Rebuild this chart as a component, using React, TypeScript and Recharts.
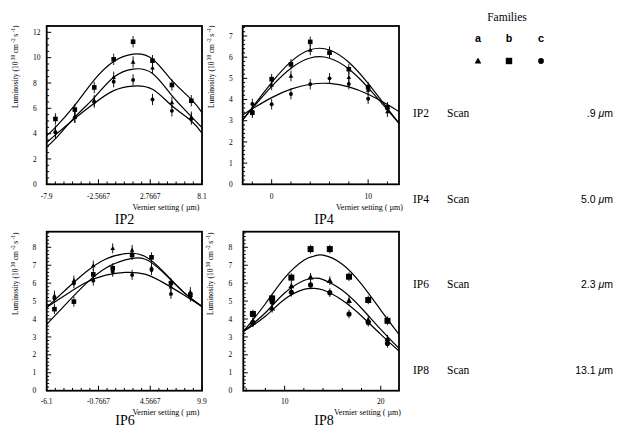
import React from 'react';
import { ComposedChart, Line, Scatter, XAxis, YAxis, ErrorBar } from 'recharts';

const SERIF = '"Liberation Serif", "DejaVu Serif", serif';
const SANS = '"Liberation Sans", Arial, sans-serif';
const MONO = '"Liberation Mono", "DejaVu Sans Mono", monospace';

// IP2 scan: vernier steps (um) and luminosity per family (a = triangle, b = square, c = circle)
const ip2Steps = [-7, -5, -3, -1, 1, 3, 5, 7];
const ip2FamA = [4.2, 5.3, 6.6, 8.45, 9.66, 9.2, 6.45, 5.3];
const ip2FamB = [5.16, 5.9, 7.65, 9.87, 11.26, 9.76, 7.84, 6.6];
const ip2FamC = [4.1, 5.3, 6.5, 8.1, 8.24, 6.7, 5.8, 5.15];
// fitted curves
const ip2FitX = [-7.9, -7, -5, -3, -1, 1, 3, 5, 7, 8.1];
const ip2FitA = [2.97, 3.6, 5.3, 6.85, 8.45, 9.1, 8.75, 7.0, 5.35, 4.47];
const ip2FitB = [3.85, 4.5, 6.25, 8.25, 9.7, 10.28, 9.9, 8.2, 6.7, 5.66];
const ip2FitC = [3.3, 3.9, 5.2, 6.4, 7.4, 7.76, 7.5, 6.2, 5.0, 4.03];
const ip2XTicks = [-7.9, -2.5667, 2.7667, 8.1];
const ip2XLabels = ['-7.9', '-2.5667', '2.7667', '8.1'];
const ip2YTicks = [0, 2, 4, 6, 8, 10, 12];

// IP4 scan
const ip4Steps = [-2, 0, 2, 4, 6, 8, 10, 12];
const ip4FamA = [3.48, 4.69, 5.11, 6.34, 6.26, 5.05, 4.45, 3.43];
const ip4FamB = [3.38, 4.96, 5.66, 6.72, 6.21, 5.43, 4.58, 3.63];
const ip4FamC = [3.79, 3.78, 4.26, 4.72, 5.0, 4.73, 4.04, 3.59];
const ip4FitX = [-3, -2, 0, 2, 4, 6, 8, 10, 12, 13.2];
const ip4FitA = [3.04, 3.58, 4.62, 5.48, 5.96, 5.95, 5.44, 4.56, 3.51, 2.88];
const ip4FitB = [3.04, 3.63, 4.8, 5.79, 6.35, 6.34, 5.76, 4.76, 3.58, 2.88];
const ip4FitC = [3.27, 3.56, 4.09, 4.49, 4.72, 4.76, 4.6, 4.25, 3.77, 3.43];
const ip4XTicks = [0, 10];
const ip4XLabels = ['0', '10'];
const ip4YTicks = [0, 1, 2, 3, 4, 5, 6, 7];

// IP6 scan
const ip6Steps = [-5.3, -3.3, -1.3, 0.7, 2.7, 4.7, 6.7, 8.7];
const ip6FamA = [5.3, 6.14, 6.98, 7.94, 7.85, 6.87, 5.8, 5.5];
const ip6FamB = [4.55, 4.97, 6.49, 6.83, 7.57, 7.44, 6.0, 5.35];
const ip6FamC = [5.15, 5.99, 6.14, 6.64, 6.46, 6.73, 5.4, 5.25];
const ip6FitX = [-6.1, -4, -2, 0, 2, 4, 6, 8, 9.9];
const ip6FitA = [4.65, 5.7, 6.65, 7.35, 7.65, 7.5, 6.6, 5.5, 4.7];
const ip6FitB = [3.7, 4.9, 6.0, 6.85, 7.3, 7.35, 6.55, 5.5, 4.7];
const ip6FitC = [4.65, 5.4, 6.05, 6.45, 6.6, 6.5, 6.0, 5.35, 4.7];
const ip6XTicks = [-6.1, -0.7667, 4.5667, 9.9];
const ip6XLabels = ['-6.1', '-0.7667', '4.5667', '9.9'];
const ip6YTicks = [0, 1, 2, 3, 4, 5, 6, 7, 8];

// IP8 scan
const ip8Steps = [6.7, 8.7, 10.7, 12.7, 14.7, 16.7, 18.7, 20.7];
const ip8FamA = [3.8, 4.6, 5.84, 6.33, 6.14, 5.02, 3.94, 2.88];
const ip8FamB = [4.28, 5.15, 6.31, 7.9, 7.9, 6.36, 5.06, 3.9];
const ip8FamC = [3.81, 4.95, 5.49, 5.9, 5.47, 4.28, 3.81, 2.64];
const ip8FitX = [5.7, 8, 10, 12, 13, 14, 16, 18, 20, 21.9];
const ip8FitA = [3.3, 4.35, 5.45, 6.15, 6.27, 6.2, 5.6, 4.6, 3.42, 2.36];
const ip8FitB = [3.3, 4.85, 6.3, 7.28, 7.5, 7.56, 7.06, 5.94, 4.5, 3.14];
const ip8FitC = [3.3, 4.15, 5.1, 5.65, 5.71, 5.62, 5.05, 4.17, 3.14, 2.21];
const ip8XTicks = [10, 20];
const ip8XLabels = ['10', '20'];
const ip8YTicks = [0, 1, 2, 3, 4, 5, 6, 7, 8];

const familyNames = ['a', 'b', 'c'];
const scanNames = ['IP2', 'IP4', 'IP6', 'IP8'];
const scanOffsets = ['.9', '5.0', '2.3', '13.1'];

const range = (from: number, to: number, step: number) => {
  const out: number[] = [];
  for (let i = 0; from + i * step <= to + 1e-6; i++) out.push(+(from + i * step).toFixed(4));
  return out;
};

const isMajor = (v: number, majors: number[]) => majors.findIndex((m) => Math.abs(m - v) < 1e-3);

const withMinors = (majors: number[], minors: number[]) =>
  [...majors, ...minors.filter((m) => isMajor(m, majors) < 0)].sort((a, b) => a - b);

const Marker = ({ cx, cy, kind, size }: any) => {
  if (cx == null || cy == null) return null;
  const h = size / 2;
  if (kind === 'a')
    return <polygon points={`${cx},${cy - h * 1.1} ${cx + h * 1.05},${cy + h * 0.8} ${cx - h * 1.05},${cy + h * 0.8}`} fill="#000" />;
  if (kind === 'b') return <rect x={cx - h} y={cy - h} width={size} height={size} fill="#000" />;
  return <circle cx={cx} cy={cy} r={h * 0.9} fill="#000" />;
};

// tick marks are drawn as thin filled rects, pointing into the frame
const XTick = ({ x, y, payload, majors, labels, labelDy }: any) => {
  const idx = isMajor(payload.value, majors);
  const len = idx >= 0 ? 5 : 2.8;
  return (
    <g>
      <rect x={x - 0.5} y={y - len} width={1} height={len} fill="#000" />
      {idx >= 0 && (
        <text x={x} y={y + labelDy} textAnchor="middle" fontFamily={SERIF} fontSize={7.5} fill="#000">
          {labels[idx]}
        </text>
      )}
    </g>
  );
};

const YTick = ({ x, y, payload, majors, labelDx }: any) => {
  const idx = isMajor(payload.value, majors);
  const len = idx >= 0 ? 4.5 : 2.4;
  return (
    <g>
      <rect x={x} y={y - 0.5} width={len} height={1} fill="#000" />
      {idx >= 0 && (
        <text x={x - labelDx} y={y + 2.6} textAnchor="start" fontFamily={SERIF} fontSize={7.5} fill="#000">
          {String(majors[idx])}
        </text>
      )}
    </g>
  );
};

const X_AXIS_H = 20;
const Y_AXIS_W = 30;
const CHART_W = 210;
const CHART_H = 215;

const panels = [
  {
    name: 'IP2', left: 0, top: 0, margin: { top: 26, right: 8, bottom: 10.7, left: 16.7 },
    xDomain: [-7.9, 8.1], yMax: 12.5, steps: ip2Steps, fams: [ip2FamA, ip2FamB, ip2FamC],
    fitX: ip2FitX, fits: [ip2FitA, ip2FitB, ip2FitC], xMajors: ip2XTicks, xLabels: ip2XLabels,
    xMinors: range(-7.9, 8.1, 16 / 18), yMajors: ip2YTicks, yMinors: range(0, 12.5, 0.5),
    err: 0.45, marker: 4.6, labelDy: 14.5, labelDx: 13.7,
  },
  {
    name: 'IP4', left: 205, top: 0, margin: { top: 26, right: 16, bottom: 10.7, left: 7.7 },
    xDomain: [-3, 13.2], yMax: 7.47, steps: ip4Steps, fams: [ip4FamA, ip4FamB, ip4FamC],
    fitX: ip4FitX, fits: [ip4FitA, ip4FitB, ip4FitC], xMajors: ip4XTicks, xLabels: ip4XLabels,
    xMinors: range(-2, 12, 2), yMajors: ip4YTicks, yMinors: range(0, 7.4, 0.2),
    err: 0.25, marker: 4.6, labelDy: 14.5, labelDx: 13.7,
  },
  {
    name: 'IP6', left: 0, top: 215, margin: { top: 16.7, right: 8, bottom: 19.3, left: 16.7 },
    xDomain: [-6.1, 9.9], yMax: 8.87, steps: ip6Steps, fams: [ip6FamA, ip6FamB, ip6FamC],
    fitX: ip6FitX, fits: [ip6FitA, ip6FitB, ip6FitC], xMajors: ip6XTicks, xLabels: ip6XLabels,
    xMinors: range(-6.1, 9.9, 16 / 18), yMajors: ip6YTicks, yMinors: range(0, 8.8, 0.2),
    err: 0.28, marker: 4.6, labelDy: 13, labelDx: 14.2,
  },
  {
    name: 'IP8', left: 205, top: 215, margin: { top: 16.7, right: 16, bottom: 19.3, left: 8.3 },
    xDomain: [5.7, 21.9], yMax: 8.87, steps: ip8Steps, fams: [ip8FamA, ip8FamB, ip8FamC],
    fitX: ip8FitX, fits: [ip8FitA, ip8FitB, ip8FitC], xMajors: ip8XTicks, xLabels: ip8XLabels,
    xMinors: range(6, 20, 2), yMajors: ip8YTicks, yMinors: range(0, 8.8, 0.2),
    err: 0.24, marker: 6, labelDy: 13, labelDx: 14.8,
  },
];

// plot rectangle of a panel, in page pixels (from its chart size and margins)
const plotBox = (p: (typeof panels)[number]) => {
  const x = p.left + p.margin.left + Y_AXIS_W;
  const y = p.top + p.margin.top;
  return { x, y, w: p.left + CHART_W - p.margin.right - x, h: p.top + CHART_H - p.margin.bottom - X_AXIS_H - y };
};

const ScanPanel = ({ p }: { p: (typeof panels)[number] }) => {
  const famData = p.fams.map((ys) => p.steps.map((x, j) => ({ x, y: ys[j], err: p.err })));
  const fitData = p.fits.map((ys) => p.fitX.map((x, j) => ({ x, y: ys[j] })));
  return (
    <div style={{ position: 'absolute', left: p.left, top: p.top }}>
      <ComposedChart width={CHART_W} height={CHART_H} margin={p.margin}>
        <XAxis
          type="number" dataKey="x" domain={p.xDomain} allowDataOverflow
          ticks={withMinors(p.xMajors, p.xMinors)} interval={0}
          height={X_AXIS_H} tickSize={0} tickMargin={0} axisLine={false} tickLine={false}
          tick={(t: any) => <XTick {...t} majors={p.xMajors} labels={p.xLabels} labelDy={p.labelDy} />}
        />
        <YAxis
          type="number" dataKey="y" domain={[0, p.yMax]} allowDataOverflow
          ticks={withMinors(p.yMajors, p.yMinors)} interval={0}
          width={Y_AXIS_W} tickSize={0} tickMargin={0} axisLine={false} tickLine={false}
          tick={(t: any) => <YTick {...t} majors={p.yMajors} labelDx={p.labelDx} />}
        />
        {fitData.map((d, i) => (
          <Line
            key={'fit' + i} data={d} dataKey="y" type="natural" dot={false} activeDot={false}
            stroke="#000" strokeWidth={1.2} isAnimationActive={false}
          />
        ))}
        {famData.map((d, i) => (
          <Scatter
            key={'fam' + i} data={d} dataKey="y" isAnimationActive={false}
            shape={(s: any) => <Marker cx={s.cx} cy={s.cy} kind={familyNames[i]} size={familyNames[i] === 'b' ? p.marker : p.marker * 0.95} />}
          >
            <ErrorBar dataKey="err" direction="y" width={0} stroke="#000" strokeWidth={0.9} />
          </Scatter>
        ))}
      </ComposedChart>
    </div>
  );
};

const LumiTitle = ({ x, y }: { x: number; y: number }) => (
  <text x={x} y={y} transform={`rotate(-90 ${x} ${y})`} fontFamily={SERIF} fontSize={7.5} fill="#000">
    Luminosity (10
    <tspan dy={-3} fontSize={5.5}> 30 </tspan>
    <tspan dy={3}>cm</tspan>
    <tspan dy={-3} fontSize={5.5}> -2 </tspan>
    <tspan dy={3}>s</tspan>
    <tspan dy={-3} fontSize={5.5}> -1</tspan>
    <tspan dy={3}>)</tspan>
  </text>
);

const titlePos = [
  { lx: 18.2, ly: 108, vx: 199.5, vy: 210, tx: 124.5, ty: 223.5 },
  { lx: 214, ly: 108, vx: 403, vy: 210, tx: 324, ty: 223.5 },
  { lx: 18.2, ly: 315, vx: 199.5, vy: 415, tx: 125, ty: 424.5 },
  { lx: 212.5, ly: 315, vx: 401, vy: 415, tx: 324, ty: 424.5 },
];

const legendX = [478, 509, 541];
const scanRowY = [117, 202.5, 288, 373.5];

export default function App() {
  return (
    <div style={{ position: 'absolute', left: 0, top: 0, width: 622, height: 430, background: '#fff' }}>
      {panels.map((p) => (
        <ScanPanel key={p.name} p={p} />
      ))}
      <svg width={622} height={430} style={{ position: 'absolute', left: 0, top: 0, pointerEvents: 'none' }}>
        {panels.map((p, i) => {
          const t = titlePos[i];
          const b = plotBox(p);
          return (
            <g key={p.name}>
              {/* plot frame */}
              <rect x={b.x} y={b.y} width={b.w} height={b.h} fill="none" stroke="#000" strokeWidth={1.8} />
              <LumiTitle x={t.lx} y={t.ly} />
              <text x={t.vx} y={t.vy} textAnchor="end" fontFamily={SERIF} fontSize={8} fill="#000">
                Vernier setting ( µm)
              </text>
              <text x={t.tx} y={t.ty} textAnchor="middle" fontFamily={SERIF} fontSize={14} fill="#000">
                {p.name}
              </text>
            </g>
          );
        })}
        <text x={507} y={21} textAnchor="middle" fontFamily={SERIF} fontSize={11.5} fill="#000">
          Families
        </text>
        {familyNames.map((f, i) => (
          <g key={f}>
            <text x={legendX[i]} y={42} textAnchor="middle" fontFamily={MONO} fontWeight="bold" fontSize={11} fill="#000">
              {f}
            </text>
            <Marker cx={legendX[i]} cy={61} kind={f} size={6.4} />
          </g>
        ))}
        {scanNames.map((s, i) => (
          <g key={s}>
            <text x={413} y={scanRowY[i]} fontFamily={SERIF} fontSize={11.5} fill="#000">
              {s}
            </text>
            <text x={447} y={scanRowY[i]} fontFamily={SERIF} fontSize={11.5} fill="#000">
              Scan
            </text>
            <text x={613} y={scanRowY[i]} textAnchor="end" fontFamily={SANS} fontSize={10.5} fill="#000">
              {scanOffsets[i]} <tspan fontStyle="italic">μ</tspan>m
            </text>
          </g>
        ))}
      </svg>
    </div>
  );
}
